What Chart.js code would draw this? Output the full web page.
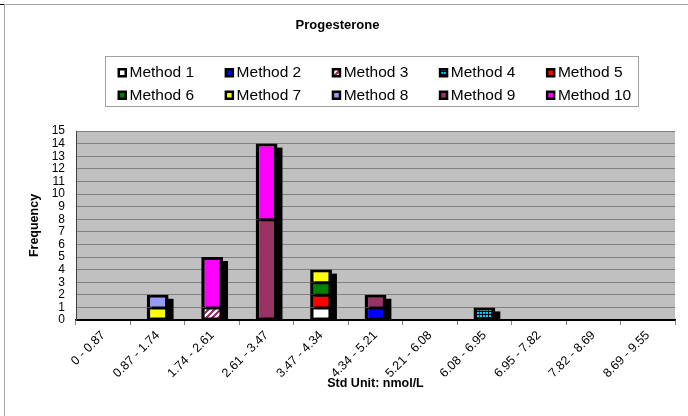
<!DOCTYPE html>
<html>
<head>
<meta charset="utf-8">
<script src="https://cdn.jsdelivr.net/npm/chart.js@4.4.1/dist/chart.umd.min.js"></script>
<style>
  html, body { margin: 0; padding: 0; background: #fff; }
  #wrap { width: 688px; height: 416px; }
</style>
</head>
<body>
<div id="wrap"><canvas id="c" width="688" height="416"></canvas></div>
<script>
// ---- data ----
const categories = ['0 - 0.87', '0.87 - 1.74', '1.74 - 2.61', '2.61 - 3.47', '3.47 - 4.34', '4.34 - 5.21', '5.21 - 6.08', '6.08 - 6.95', '6.95 - 7.82', '7.82 - 8.69', '8.69 - 9.55'];
const seriesNames = ['Method 1', 'Method 2', 'Method 3', 'Method 4', 'Method 5', 'Method 6', 'Method 7', 'Method 8', 'Method 9', 'Method 10'];
const method1  = [0, 0, 0, 0, 1, 0, 0, 0, 0, 0, 0];
const method2  = [0, 0, 0, 0, 0, 1, 0, 0, 0, 0, 0];
const method3  = [0, 0, 1, 0, 0, 0, 0, 0, 0, 0, 0];
const method4  = [0, 0, 0, 0, 0, 0, 0, 1, 0, 0, 0];
const method5  = [0, 0, 0, 0, 1, 0, 0, 0, 0, 0, 0];
const method6  = [0, 0, 0, 0, 1, 0, 0, 0, 0, 0, 0];
const method7  = [0, 1, 0, 0, 1, 0, 0, 0, 0, 0, 0];
const method8  = [0, 1, 0, 0, 0, 0, 0, 0, 0, 0, 0];
const method9  = [0, 0, 0, 8, 0, 1, 0, 0, 0, 0, 0];
const method10 = [0, 0, 4, 6, 0, 0, 0, 0, 0, 0, 0];
const yTicksMax = 15;
const xTitle = 'Std Unit: nmol/L';
const yTitle = 'Frequency';
const chartTitle = 'Progesterone';

const allSeries = [method1, method2, method3, method4, method5, method6, method7, method8, method9, method10];

// ---- patterns ----
function makePattern(size, painter) {
  const c = document.createElement('canvas');
  c.width = size; c.height = size;
  const g = c.getContext('2d');
  painter(g, size);
  return document.getElementById('c').getContext('2d').createPattern(c, 'repeat');
}
const stripePattern = makePattern(6, (g, s) => {
  g.fillStyle = '#ffffff'; g.fillRect(0, 0, s, s);
  g.fillStyle = '#993366';
  for (let x = 0; x < s; x++) for (let y = 0; y < s; y++) {
    if (((x + y) % 6) < 3) g.fillRect(x, y, 1, 1);
  }
});
const checkPattern = makePattern(3, (g, s) => {
  g.fillStyle = '#000000'; g.fillRect(0, 0, s, s);
  g.fillStyle = '#00ccff'; g.fillRect(0, 0, 2, 2);
});

const colors = ['#ffffff', '#0000ff', stripePattern, checkPattern, '#ff0000', '#008000', '#ffff00', '#9999ff', '#993366', '#ff00ff'];

const FONT = "'Liberation Sans', Arial, sans-serif";

// ---- plugins ----
const backdrop = {
  id: 'backdrop',
  beforeDraw(chart) {
    const ctx = chart.ctx, a = chart.chartArea;
    ctx.save();
    ctx.fillStyle = '#ffffff';
    ctx.fillRect(0, 0, chart.width, chart.height);
    ctx.strokeStyle = '#a6a6a6';
    ctx.lineWidth = 1;
    ctx.beginPath();
    ctx.moveTo(4.5, chart.height);
    ctx.lineTo(4.5, 4.5);
    ctx.lineTo(chart.width, 4.5);
    ctx.stroke();
    ctx.fillStyle = '#000';
    ctx.fillRect(0, 4, 4, 1);
    ctx.fillStyle = '#c0c0c0';
    ctx.fillRect(a.left, a.top, a.right - a.left, a.bottom - a.top);
    ctx.restore();
  }
};

const shadow = {
  id: 'barShadow',
  beforeDatasetsDraw(chart) {
    const ctx = chart.ctx, ys = chart.scales.y;
    ctx.save();
    ctx.fillStyle = '#000';
    categories.forEach((c, i) => {
      let total = 0;
      let el = null;
      allSeries.forEach((s, k) => {
        total += s[i];
        if (s[i] && !el) el = chart.getDatasetMeta(k).data[i];
      });
      if (!total || !el) return;
      const p = el.getProps(['x', 'width'], true);
      const top = ys.getPixelForValue(total);
      const bottom = ys.getPixelForValue(0);
      ctx.fillRect(p.x - p.width / 2 + 5, top + 4, p.width, bottom - top - 4);
    });
    ctx.restore();
  }
};

const boxLegend = {
  id: 'boxLegend',
  afterDraw(chart) {
    const ctx = chart.ctx;
    ctx.save();
    ctx.strokeStyle = '#a0a0a0';
    ctx.lineWidth = 1;
    ctx.strokeRect(105.5, 56.5, 533, 50);
    ctx.font = '15.5px ' + FONT;
    ctx.textBaseline = 'middle';
    ctx.textAlign = 'left';
    chart.data.datasets.forEach((ds, i) => {
      const col = i % 5, row = Math.floor(i / 5);
      const x = 117.5 + col * 107.1;
      const yc = row ? 95 : 72.5;
      ctx.fillStyle = '#000';
      ctx.fillRect(x, yc - 4.5, 9.5, 9.5);
      ctx.fillStyle = ds.backgroundColor;
      ctx.fillRect(x + 2.5, yc - 2, 4.5, 4.5);
      ctx.fillStyle = '#000';
      ctx.fillText(ds.label, x + 12, yc + 0.5);
    });
    ctx.restore();
  }
};

// is this segment the top / bottom of its stack?
function isTop(ctx) {
  const i = ctx.dataIndex;
  for (let k = ctx.datasetIndex + 1; k < allSeries.length; k++) if (allSeries[k][i]) return false;
  return true;
}
function isBottom(ctx) {
  const i = ctx.dataIndex;
  for (let k = 0; k < ctx.datasetIndex; k++) if (allSeries[k][i]) return false;
  return true;
}

// ---- chart ----
const datasets = allSeries.map((s, i) => ({
  label: seriesNames[i],
  data: s.map(v => v || null),
  backgroundColor: colors[i],
  borderColor: '#000000',
  borderWidth: (ctx) => ({
    top: isTop(ctx) ? 3 : 2,
    bottom: isBottom(ctx) ? 2 : 1,
    left: 3.5,
    right: 3.5
  }),
  borderSkipped: false,
  barPercentage: 0.4,
  categoryPercentage: 1.0
}));

new Chart(document.getElementById('c'), {
  type: 'bar',
  data: { labels: categories, datasets },
  options: {
    responsive: false,
    animation: false,
    devicePixelRatio: 1,
    layout: { padding: { left: 0, right: 13, top: 0, bottom: 0 } },
    plugins: {
      legend: { display: false },
      tooltip: { enabled: false },
      title: {
        display: true,
        text: chartTitle,
        color: '#000',
        font: { family: FONT, size: 13, weight: 'bold', lineHeight: 1.2 },
        padding: { top: 17.2, bottom: 98.2 }
      }
    },
    scales: {
      x: {
        stacked: true,
        afterFit(scale) { scale.height = 96; },
        grid: {
          display: true,
          offset: true,
          drawOnChartArea: false,
          drawTicks: true,
          tickLength: 5,
          color: '#808080'
        },
        border: { display: true, color: '#000', width: 1.5 },
        ticks: {
          color: '#000',
          font: { family: FONT, size: 12.5 },
          minRotation: 45,
          maxRotation: 45,
          autoSkip: false,
          padding: 3
        },
        title: {
          display: true,
          text: xTitle,
          color: '#000',
          font: { family: FONT, size: 12.5, weight: 'bold', lineHeight: 1.2 },
          padding: { top: 0, bottom: 24.5 }
        }
      },
      y: {
        stacked: true,
        min: 0,
        max: yTicksMax,
        afterFit(scale) { scale.width = 76; },
        grid: {
          color: (c) => c.tick && c.tick.value === 0 ? '#000' : '#808080',
          lineWidth: 1,
          drawTicks: false
        },
        border: { display: true, color: '#404040', width: 1 },
        ticks: {
          stepSize: 1,
          maxTicksLimit: 20,
          autoSkip: false,
          color: '#000',
          font: { family: FONT, size: 12 },
          padding: 11
        },
        title: {
          display: true,
          text: yTitle,
          color: '#000',
          font: { family: FONT, size: 12.5, weight: 'bold', lineHeight: 1.2 },
          padding: { top: 27.5, bottom: 0 }
        }
      }
    }
  },
  plugins: [backdrop, shadow, boxLegend]
});
</script>
</body>
</html>
